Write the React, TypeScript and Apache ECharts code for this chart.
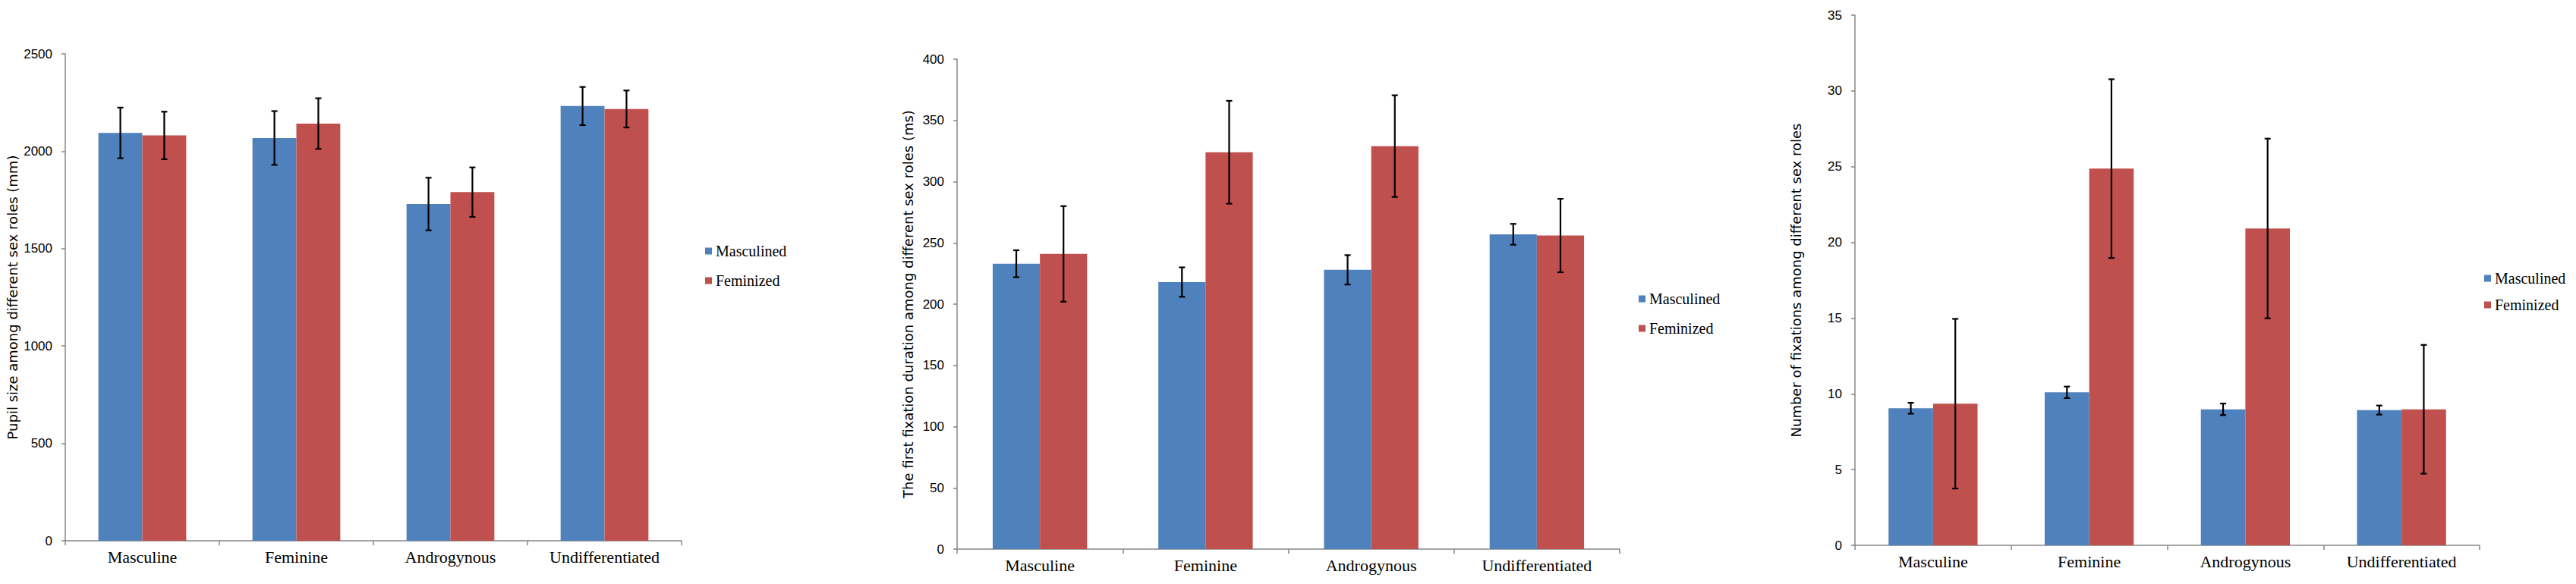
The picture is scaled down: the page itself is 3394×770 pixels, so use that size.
import React, { useEffect, useRef } from "react";
import * as echarts from "echarts";

const categories = ["Masculine", "Feminine", "Androgynous", "Undifferentiated"];
const legendNames = ["Masculined", "Feminized"];

const pupilMasc = [2094, 2068, 1729, 2232];
const pupilMascErr = [130, 138, 135, 98];
const pupilFem = [2081, 2142, 1790, 2217];
const pupilFemErr = [122, 130, 127, 95];

const durMasc = [233, 218, 228, 257];
const durMascErr = [11, 12, 12, 8.5];
const durFem = [241, 324, 329, 256];
const durFemErr = [39, 42, 41.5, 30];

const fixMasc = [9.05, 10.1, 8.98, 8.93];
const fixMascErr = [0.36, 0.38, 0.38, 0.3];
const fixFem = [9.35, 24.87, 20.92, 8.98];
const fixFemErr = [5.6, 5.9, 5.93, 4.25];

const yNames = [
  "Pupil size among different sex roles (mm)",
  "The first fixation duration among different sex roles (ms)",
  "Number of fixations among different sex roles",
];
const yMax = [2500, 400, 35];
const yInterval = [500, 50, 5];

const BLUE = "#4F81BD";
const RED = "#C0504D";
const AXIS = "#868686";
const GAP = 0.43;

const grids = [
  { left: 86, top: 71, width: 812, height: 642 },
  { left: 1261, top: 78, width: 873, height: 646 },
  { left: 2444, top: 20, width: 823, height: 699 },
];
const nameGaps = [61, 56, 69];
const legendPos = [
  { left: 929, top: 321, itemGap: 19 },
  { left: 2159, top: 384, itemGap: 19 },
  { left: 3273, top: 357, itemGap: 15 },
];

function errSeries(name: string, idx: number, vals: number[], errs: number[], sign: number) {
  return {
    type: "custom",
    name,
    xAxisIndex: idx,
    yAxisIndex: idx,
    z: 10,
    silent: true,
    encode: { x: 0, y: 1 },
    data: vals.map((v, i) => [i, v, errs[i]]),
    renderItem: (params: any, api: any) => {
      const ci = api.value(0);
      const v = api.value(1);
      const e = api.value(2);
      const c = api.coord([ci, v]);
      const band = api.size([1, 0])[0];
      const bw = (band * (1 - GAP)) / 2;
      const x = c[0] + (sign * bw) / 2;
      const top = api.coord([ci, v + e])[1];
      const bot = api.coord([ci, v - e])[1];
      const cap = 4;
      const style = { stroke: "#000", lineWidth: 2.2 };
      return {
        type: "group",
        children: [
          { type: "line", shape: { x1: x, y1: top, x2: x, y2: bot }, style },
          { type: "line", shape: { x1: x - cap, y1: top, x2: x + cap, y2: top }, style },
          { type: "line", shape: { x1: x - cap, y1: bot, x2: x + cap, y2: bot }, style },
        ],
      };
    },
  };
}

export default function App() {
  const ref = useRef<HTMLDivElement>(null);
  useEffect(() => {
    document.body.style.margin = "0";
    if (!ref.current) return;
    const chart = echarts.init(ref.current, null, { renderer: "svg" });
    const sets = [
      [pupilMasc, pupilMascErr, pupilFem, pupilFemErr],
      [durMasc, durMascErr, durFem, durFemErr],
      [fixMasc, fixMascErr, fixFem, fixFemErr],
    ];
    const series: any[] = [];
    sets.forEach((s, i) => {
      series.push({
        type: "bar",
        name: legendNames[0],
        xAxisIndex: i,
        yAxisIndex: i,
        data: s[0],
        itemStyle: { color: BLUE },
        barGap: "0%",
        barCategoryGap: "43%",
      });
      series.push({
        type: "bar",
        name: legendNames[1],
        xAxisIndex: i,
        yAxisIndex: i,
        data: s[2],
        itemStyle: { color: RED },
        barGap: "0%",
        barCategoryGap: "43%",
      });
      series.push(errSeries("errM" + i, i, s[0], s[1], -1));
      series.push(errSeries("errF" + i, i, s[2], s[3], 1));
    });
    chart.setOption({
      animation: false,
      backgroundColor: "#fff",
      grid: grids,
      legend: legendPos.map((p) => ({
        left: p.left,
        top: p.top,
        orient: "vertical",
        itemGap: p.itemGap,
        itemWidth: 9,
        itemHeight: 9,
        padding: 0,
        icon: "rect",
        data: legendNames,
        selectedMode: false,
        textStyle: {
          fontFamily: "Liberation Serif",
          fontSize: 20,
          lineHeight: 20,
          color: "#000",
        },
      })),
      xAxis: grids.map((_, i) => ({
        type: "category",
        gridIndex: i,
        data: categories,
        axisLine: { lineStyle: { color: AXIS, width: 1.5 } },
        axisTick: { show: true, length: 6, lineStyle: { color: AXIS, width: 1.5 } },
        axisLabel: {
          fontFamily: "Liberation Serif",
          fontSize: 22,
          color: "#000",
          margin: 10,
        },
        splitLine: { show: false },
      })),
      yAxis: grids.map((_, i) => ({
        type: "value",
        gridIndex: i,
        min: 0,
        max: yMax[i],
        interval: yInterval[i],
        name: yNames[i],
        nameLocation: "middle",
        nameGap: nameGaps[i],
        nameRotate: 90,
        nameTextStyle: {
          fontFamily: "DejaVu Sans",
          fontSize: 18,
          color: "#000",
        },
        axisLine: { show: true, lineStyle: { color: AXIS, width: 1.5 } },
        axisTick: { show: true, length: 5, lineStyle: { color: AXIS, width: 1.5 } },
        axisLabel: {
          fontFamily: "Liberation Sans",
          fontSize: 17,
          color: "#000",
          margin: 17,
          formatter: (v: number) => String(v),
        },
        splitLine: { show: false },
      })),
      series,
    });
    return () => chart.dispose();
  }, []);
  return <div ref={ref} style={{ width: "3394px", height: "770px" }} />;
}
